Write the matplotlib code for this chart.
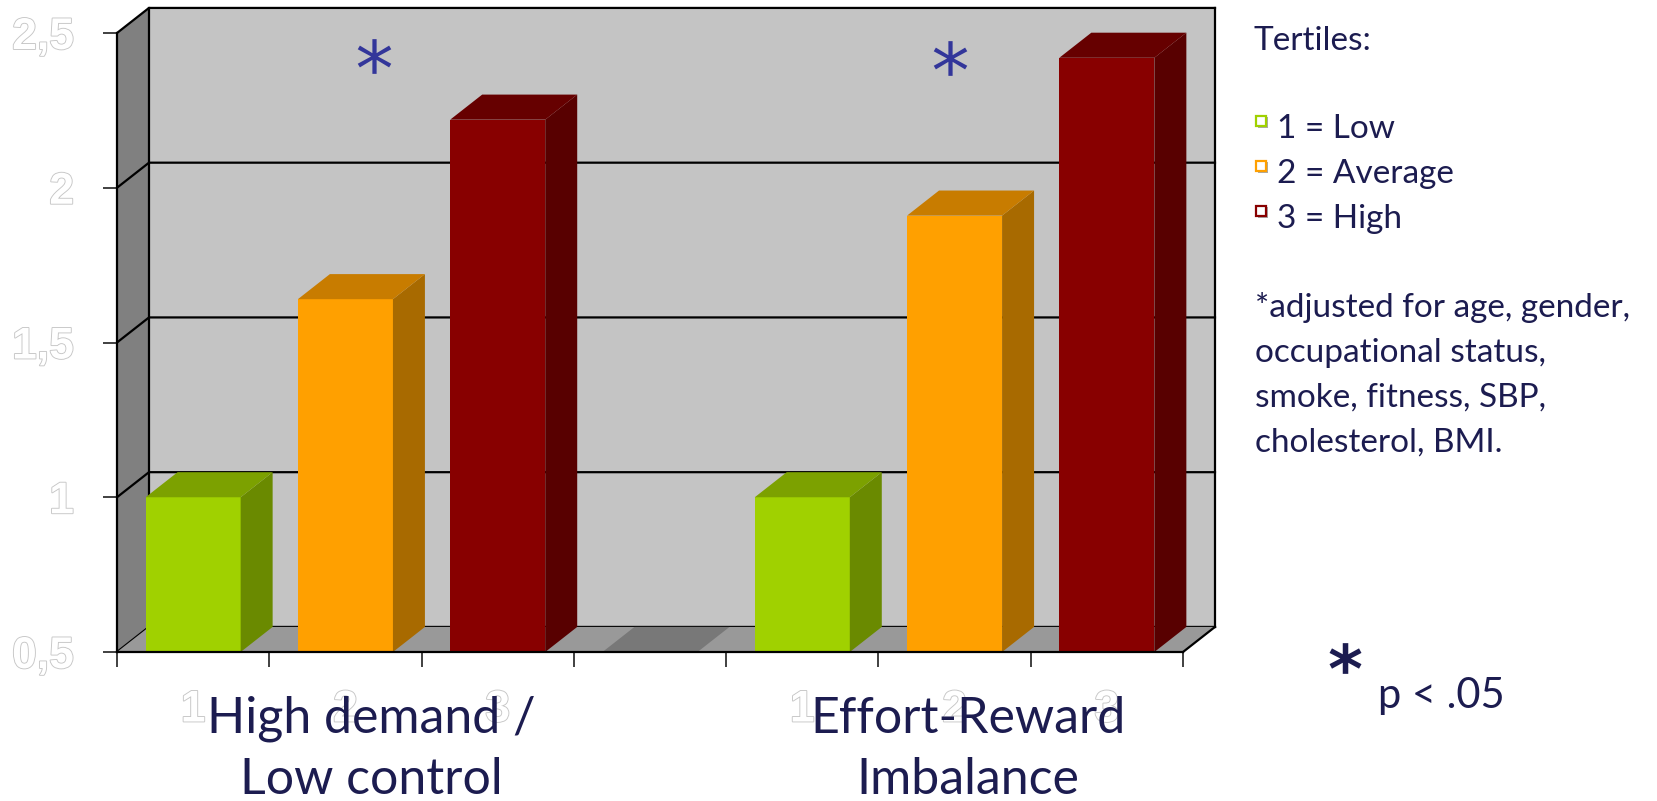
# -*- coding: utf-8 -*-
# Odds ratios by stress tertile, drawn as 3D-style bars on a grey box

import numpy as np
from matplotlib import pyplot as plt
from matplotlib.patches import Polygon, Rectangle
from matplotlib.lines import Line2D
from matplotlib import patheffects as pe

# Data
# ========================================
groups = ["High demand /\nLow control", "Effort-Reward\nImbalance"]
group_label_x = [1.67, 5.59]
tertiles = ["1", "2", "3"]
demand_control = [1.0, 1.64, 2.22]
effort_reward = [1.0, 1.91, 2.42]
star_pos = [(1.69, 2.426), (5.47, 2.419)]

yticks = [0.5, 1, 1.5, 2, 2.5]
ytick_labels = ["0,5", "1", "1,5", "2", "2,5"]

legend_labels = ["1 = Low", "2 = Average", "3 = High"]
note_lines = ["*adjusted for age, gender,", "occupational status,",
              "smoke, fitness, SBP,", "cholesterol, BMI."]

# Styles
# ========================================
W, H = 1657, 801
front_cols = ["#a0d100", "#ffa000", "#880000"]
side_cols = ["#6a8a00", "#a86a00", "#580000"]
top_cols = ["#7ca100", "#c87c00", "#660000"]
navy = "#1c1c50"
star_col = "#33369a"
text_font = ["Lato", "DejaVu Sans"]

base = 0.5
nslots = 7
bar_w = 0.624
dx, dy = 0.21, 0.081   # depth offset of the box in data units

fig = plt.figure(figsize=(W/100, H/100), dpi=100)
ax = fig.add_axes([117/W, (H - 652)/H, 1066/W, 619/H])
ax.set_xlim(0, nslots)
ax.set_ylim(base, 2.5)
ax.set_facecolor("none")
for s in ["top", "right"]:
    ax.spines[s].set_visible(False)
for s in ["left", "bottom"]:
    ax.spines[s].set_linewidth(1.6)
    ax.spines[s].set_color("black")
    ax.spines[s].set_zorder(6)


def poly(pts, color, z, **kw):
    p = Polygon(pts, closed=True, facecolor=color, edgecolor="none",
                zorder=z, clip_on=False, **kw)
    ax.add_patch(p)


def line(xs, ys, z=2, lw=1.6):
    ax.plot(xs, ys, color="black", lw=lw, zorder=z, clip_on=False,
            solid_capstyle="projecting")


# Box: side wall, back wall, floor
top = yticks[-1]
poly([(0, base), (dx, base + dy), (dx, top + dy), (0, top)], "#808080", 1)
poly([(dx, base + dy), (nslots + dx, base + dy), (nslots + dx, top + dy),
      (dx, top + dy)], "#c4c4c4", 1)
poly([(0, base), (nslots, base), (nslots + dx, base + dy), (dx, base + dy)],
     "#999999", 1.5)

for v in yticks:
    line([0, dx, nslots + dx], [v, v + dy, v + dy], z=1.2)
line([dx, dx], [base + dy, top + dy], z=1.2)
line([nslots + dx, nslots + dx], [base + dy, top + dy], z=1.2)
line([nslots, nslots + dx], [base, base + dy], z=1.6)


def bar3d(xc, val, fc, sc, tc):
    x0, x1 = xc - bar_w/2, xc + bar_w/2
    poly([(x0, base), (x1, base), (x1, val), (x0, val)], fc, 3)
    poly([(x1, base), (x1 + dx, base + dy), (x1 + dx, val + dy), (x1, val)],
         sc, 3)
    poly([(x0, val), (x1, val), (x1 + dx, val + dy), (x0 + dx, val + dy)],
         tc, 3)


# Bars: three tertiles, an empty slot, three tertiles
values = demand_control + [base] + effort_reward
for j, v in enumerate(values):
    xc = j + 0.5
    if j == 3:
        x0, x1 = xc - bar_w/2, xc + bar_w/2
        poly([(x0, base), (x1, base), (x1 + dx, base + dy),
              (x0 + dx, base + dy)], "#787878", 2)
        continue
    k = j % 4
    bar3d(xc, v, front_cols[k], side_cols[k], top_cols[k])

# Significance stars
for (sx, sy) in star_pos:
    ax.plot([sx], [sy], marker="$*$", markersize=25, color=star_col,
            markeredgewidth=0, zorder=5, clip_on=False)

# Axes ticks and outlined labels
outline = [pe.withStroke(linewidth=1.3, foreground="#c6c6c6")]
ax.set_yticks(yticks)
ax.set_yticklabels(ytick_labels)
ax.tick_params(axis="y", direction="out", length=10, width=1.4,
               color="#404040", pad=21)
ax.set_xticks(np.arange(nslots + 1))
ax.set_xticklabels([])
ax.tick_params(axis="x", which="major", direction="out", length=11,
               width=1.4, color="#404040")
slot_x = [0.5, 1.5, 2.5, 4.5, 5.5, 6.5]
ax.set_xticks(slot_x, minor=True)
ax.set_xticklabels(tertiles * 2, minor=True)
ax.tick_params(axis="x", which="minor", length=0, pad=27)
for lab in ax.get_yticklabels() + ax.get_xticklabels(minor=True):
    lab.set_family("Liberation Sans")
    lab.set_fontweight("bold")
    lab.set_fontsize(32)
    lab.set_color("white")
    lab.set_path_effects(outline)

# Group names under the axis
xtrans = ax.get_xaxis_transform()
for gx, name in zip(group_label_x, groups):
    for i, part in enumerate(name.split("\n")):
        ax.text(gx, -(733 - 652 + 61*i)/619, part, transform=xtrans,
                ha="center", va="baseline", fontsize=36, color=navy,
                family=text_font, zorder=7)


# Legend and notes on the right
def ftext(x, y, s, **kw):
    fig.text(x/W, 1 - y/H, s, color=navy, family=text_font,
             va="baseline", **kw)


ftext(1254, 50, "Tertiles:", fontsize=24)
for i, lab in enumerate(legend_labels):
    yb = 138 + 45*i
    shadow = Rectangle(((1257.5)/W, 1 - (yb - 10.5)/H), 10/W, 10/H,
                       transform=fig.transFigure, facecolor="#555555",
                       edgecolor="none", alpha=0.5)
    sq = Rectangle((1256/W, 1 - (yb - 12)/H), 10/W, 10/H,
                   transform=fig.transFigure, facecolor="white",
                   edgecolor=front_cols[i], lw=1.6)
    fig.add_artist(shadow)
    fig.add_artist(sq)
    ftext(1277, yb, lab, fontsize=24)
for i, s in enumerate(note_lines):
    ftext(1255, 317 + 45*i, s, fontsize=24)

fig.add_artist(Line2D([1345/W], [1 - 658/H], transform=fig.transFigure,
                      marker="$\\mathbf{*}$", markersize=23, color=navy,
                      markeredgewidth=0))
ftext(1378, 708, "p < .05", fontsize=30)

fig.savefig("out.png", dpi=100)
